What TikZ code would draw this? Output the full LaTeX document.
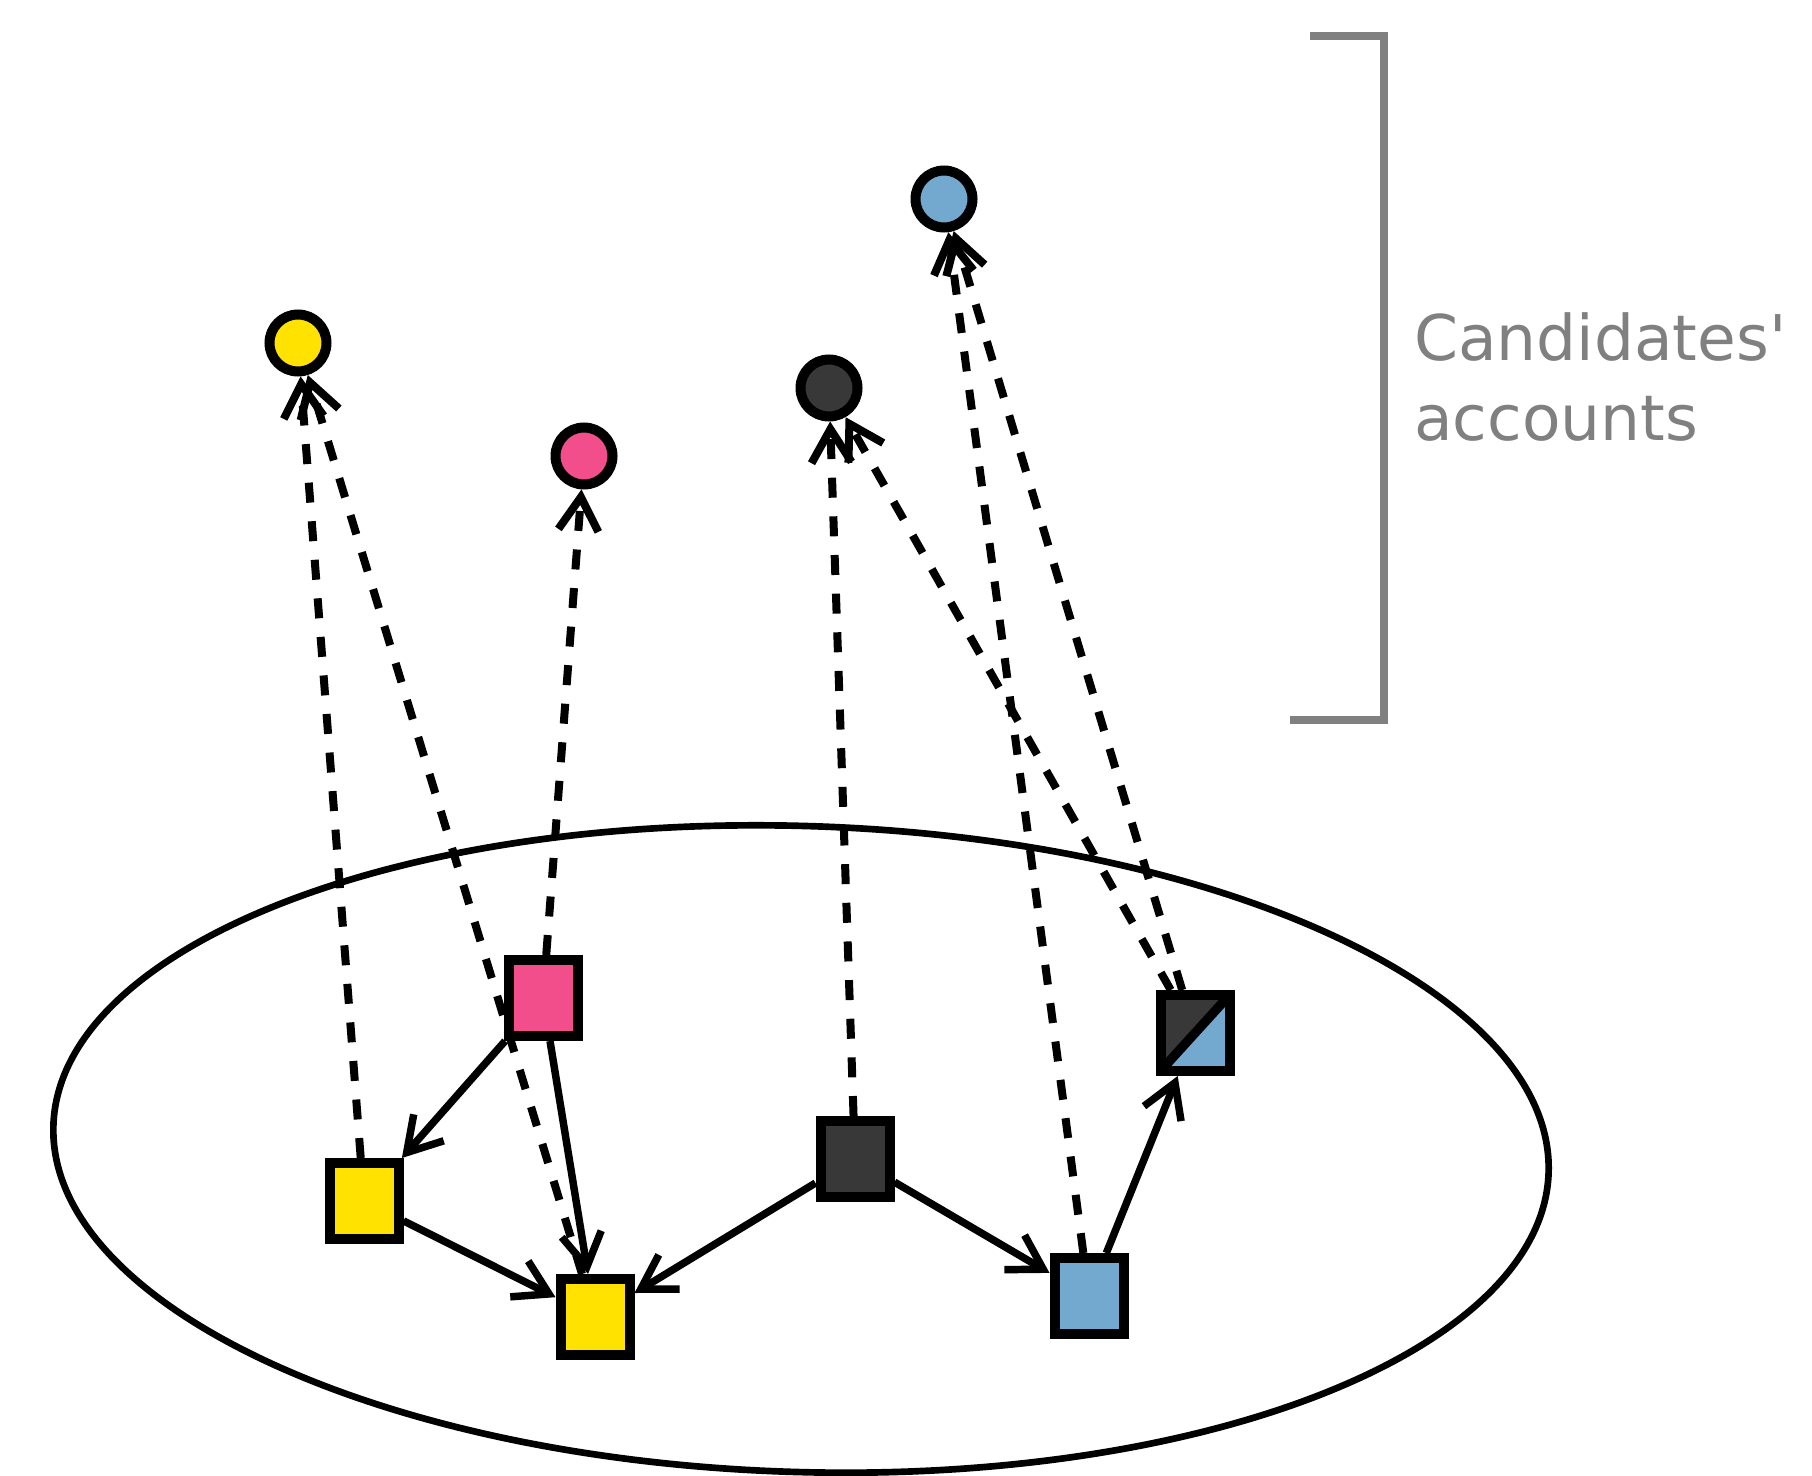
\documentclass[tikz,border=0pt]{standalone}
\usepackage{fontspec}
\newfontfamily\labelfont{DejaVu Sans}
\usetikzlibrary{arrows.meta}
\definecolor{accyellow}{RGB}{255,226,0}
\definecolor{accpink}{RGB}{242,78,140}
\definecolor{accdark}{RGB}{56,56,56}
\definecolor{accblue}{RGB}{116,169,207}
\definecolor{bracketgray}{RGB}{128,128,128}

\begin{document}
\begin{tikzpicture}[x=0.75pt, y=-0.75pt,
		>={Straight Barb[length=25pt, width=30pt, sharp]},
		acct/.style={draw=black, line width=7.5pt, minimum width=51.75pt, minimum height=57pt, inner sep=0pt},
		cand/.style={circle, draw=black, line width=7.5pt, minimum size=42.75pt, inner sep=0pt},
		link/.style={->, line width=5.6pt},
		claim/.style={->, line width=6pt, dash pattern=on 15pt off 14pt}]
	
	\useasboundingbox (0,0) rectangle (1812,1476);
	
	% ===== community: the big ellipse =====
	\draw[line width=5pt, rotate around={-1.8:(801,1149)}] (801,1149) ellipse [x radius=748, y radius=323];
	
	% ===== accounts inside the community =====
	\node[acct, fill=accpink]   (psq)  at (543,998)  {};
	\node[acct, fill=accyellow] (ysq1) at (364,1201) {};
	\node[acct, fill=accyellow] (ysq2) at (595,1317) {};
	\node[acct, fill=accdark]   (dsq)  at (855,1159) {};
	\node[acct, fill=accblue]   (bsq)  at (1089,1296) {};
	% shared account: half dark, half blue
	\node[acct, fill=accdark, path picture={
		\fill[accblue] (path picture bounding box.south west) -- (path picture bounding box.north east)
			-- (path picture bounding box.south east) -- cycle;
		\draw[line width=7pt] (path picture bounding box.south west) -- (path picture bounding box.north east);
	}] (ssq) at (1195,1033) {};
	
	% ===== candidates' accounts =====
	\node[cand, fill=accyellow] (ycirc) at (298,343) {};
	\node[cand, fill=accpink]   (pcirc) at (584,456) {};
	\node[cand, fill=accdark]   (dcirc) at (829,388) {};
	\node[cand, fill=accblue]   (bcirc) at (944,199) {};
	
	% ===== links between accounts =====
	\foreach \a/\b in {psq/ysq1, psq/ysq2, ysq1/ysq2, dsq/ysq2, dsq/bsq, bsq/ssq}
		\draw[link] (\a) -- (\b);
	
	% ===== accounts -> candidates =====
	\foreach \a/\b in {ysq1/ycirc, ysq2/ycirc, psq/pcirc, dsq/dcirc, ssq/dcirc, bsq/bcirc, ssq/bcirc}
		\draw[claim] (\a) -- (\b);
	
	% ===== bracket and label =====
	\draw[bracketgray, line width=6pt] (1310,36) -- (1384,36) -- (1384,720) -- (1290,720);
	\node[anchor=north west, inner sep=0pt, align=left, text=bracketgray,
		font=\labelfont\fontsize{47.25pt}{60pt}\selectfont] (lbl) at (1414,312) {Candidates\textquotesingle\\accounts};
	
\end{tikzpicture}
\end{document}
